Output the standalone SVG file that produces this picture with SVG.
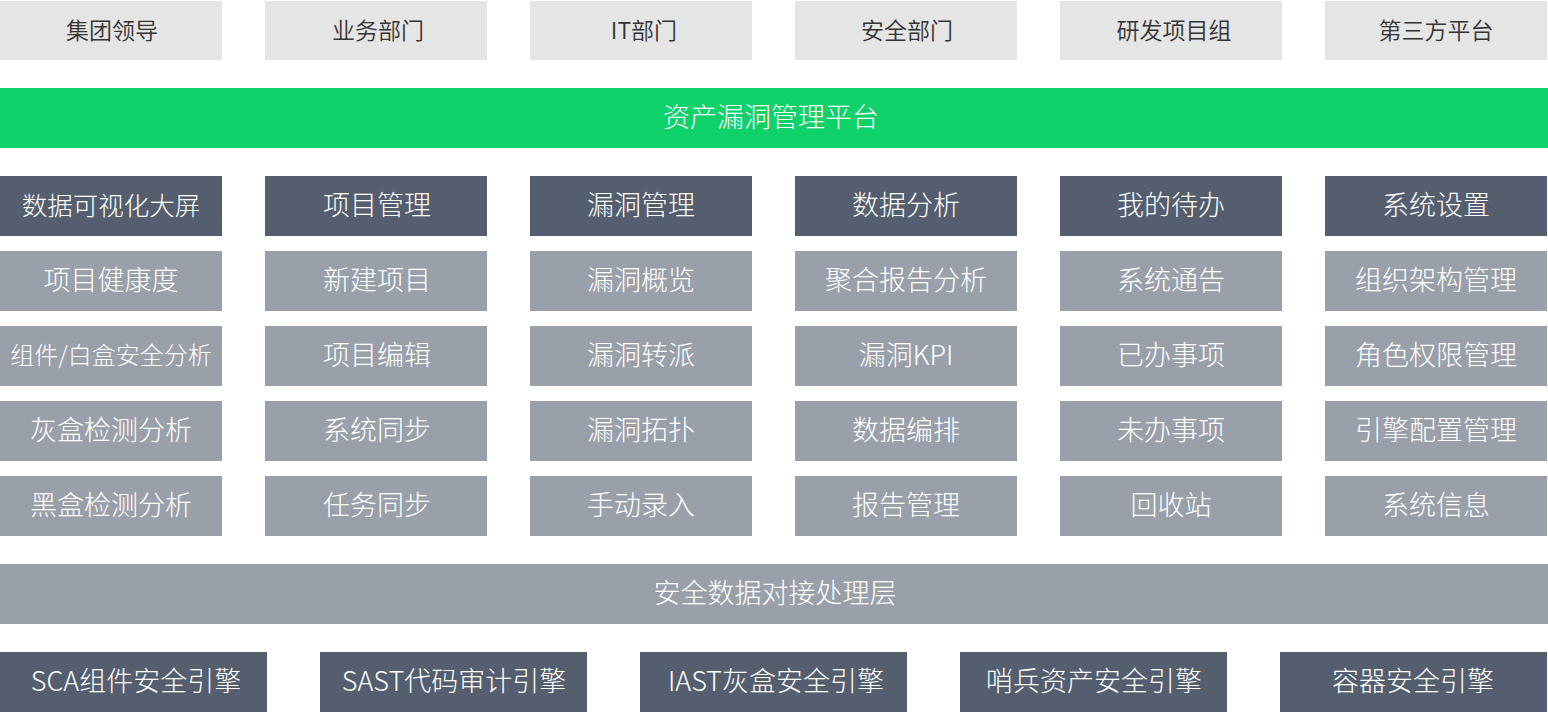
<svg xmlns="http://www.w3.org/2000/svg" width="1548" height="712" viewBox="0 0 1548 712">
<style>
text{font-family:"Noto Sans CJK SC","Noto Sans",sans-serif;text-anchor:middle;font-weight:300}
.u rect{fill:#e5e5e5}
.u text{fill:#333333;font-size:23px;font-weight:350}
.g rect{fill:#0fd16a}
.d rect{fill:#545e6e}
.l rect{fill:#9aa0aa}
.g text,.d text,.l text{fill:#ffffff;font-size:27px}
</style>
<rect width="1548" height="712" fill="#ffffff"/>
<g id="users">
<g id="u1" class="u"><rect x="0" y="1" width="222" height="59"/><text x="112" y="38.5">集团领导</text></g>
<g id="u2" class="u"><rect x="265" y="1" width="222" height="59"/><text x="378" y="38.5">业务部门</text></g>
<g id="u3" class="u"><rect x="530" y="1" width="222" height="59"/><text x="644" y="38.5">IT部门</text></g>
<g id="u4" class="u"><rect x="795" y="1" width="222" height="59"/><text x="907" y="38.5">安全部门</text></g>
<g id="u5" class="u"><rect x="1060" y="1" width="222" height="59"/><text x="1174" y="38.5">研发项目组</text></g>
<g id="u6" class="u"><rect x="1325" y="1" width="222" height="59"/><text x="1436" y="38.5">第三方平台</text></g>
</g>
<g id="platform" class="g"><rect x="0" y="88" width="1548" height="60"/><text x="771" y="127">资产漏洞管理平台</text></g>
<g id="modules">
<g id="m1" class="d"><rect x="0" y="176" width="222" height="60"/><text x="111" y="214.5" style="font-size:25.5px">数据可视化大屏</text></g>
<g id="m2" class="d"><rect x="265" y="176" width="222" height="60"/><text x="377" y="215">项目管理</text></g>
<g id="m3" class="d"><rect x="530" y="176" width="222" height="60"/><text x="641" y="215">漏洞管理</text></g>
<g id="m4" class="d"><rect x="795" y="176" width="222" height="60"/><text x="906" y="215">数据分析</text></g>
<g id="m5" class="d"><rect x="1060" y="176" width="222" height="60"/><text x="1171" y="215">我的待办</text></g>
<g id="m6" class="d"><rect x="1325" y="176" width="222" height="60"/><text x="1436" y="215">系统设置</text></g>
</g>
<g id="features">
<g id="f11" class="l"><rect x="0" y="251" width="222" height="60"/><text x="111" y="290">项目健康度</text></g>
<g id="f12" class="l"><rect x="0" y="326" width="222" height="60"/><text x="111" y="364" style="font-size:24px">组件/白盒安全分析</text></g>
<g id="f13" class="l"><rect x="0" y="401" width="222" height="60"/><text x="111" y="440">灰盒检测分析</text></g>
<g id="f14" class="l"><rect x="0" y="476" width="222" height="60"/><text x="111" y="515">黑盒检测分析</text></g>
<g id="f21" class="l"><rect x="265" y="251" width="222" height="60"/><text x="377" y="290">新建项目</text></g>
<g id="f22" class="l"><rect x="265" y="326" width="222" height="60"/><text x="377" y="365">项目编辑</text></g>
<g id="f23" class="l"><rect x="265" y="401" width="222" height="60"/><text x="377" y="440">系统同步</text></g>
<g id="f24" class="l"><rect x="265" y="476" width="222" height="60"/><text x="377" y="515">任务同步</text></g>
<g id="f31" class="l"><rect x="530" y="251" width="222" height="60"/><text x="641" y="290">漏洞概览</text></g>
<g id="f32" class="l"><rect x="530" y="326" width="222" height="60"/><text x="641" y="365">漏洞转派</text></g>
<g id="f33" class="l"><rect x="530" y="401" width="222" height="60"/><text x="641" y="440">漏洞拓扑</text></g>
<g id="f34" class="l"><rect x="530" y="476" width="222" height="60"/><text x="641" y="515">手动录入</text></g>
<g id="f41" class="l"><rect x="795" y="251" width="222" height="60"/><text x="906" y="290">聚合报告分析</text></g>
<g id="f42" class="l"><rect x="795" y="326" width="222" height="60"/><text x="906" y="365">漏洞KPI</text></g>
<g id="f43" class="l"><rect x="795" y="401" width="222" height="60"/><text x="906" y="440">数据编排</text></g>
<g id="f44" class="l"><rect x="795" y="476" width="222" height="60"/><text x="906" y="515">报告管理</text></g>
<g id="f51" class="l"><rect x="1060" y="251" width="222" height="60"/><text x="1171" y="290">系统通告</text></g>
<g id="f52" class="l"><rect x="1060" y="326" width="222" height="60"/><text x="1171" y="365">已办事项</text></g>
<g id="f53" class="l"><rect x="1060" y="401" width="222" height="60"/><text x="1171" y="440">未办事项</text></g>
<g id="f54" class="l"><rect x="1060" y="476" width="222" height="60"/><text x="1171" y="515">回收站</text></g>
<g id="f61" class="l"><rect x="1325" y="251" width="222" height="60"/><text x="1436" y="290">组织架构管理</text></g>
<g id="f62" class="l"><rect x="1325" y="326" width="222" height="60"/><text x="1436" y="365">角色权限管理</text></g>
<g id="f63" class="l"><rect x="1325" y="401" width="222" height="60"/><text x="1436" y="440">引擎配置管理</text></g>
<g id="f64" class="l"><rect x="1325" y="476" width="222" height="60"/><text x="1436" y="515">系统信息</text></g>
</g>
<g id="datalayer" class="l"><rect x="0" y="564" width="1548" height="60"/><text x="775" y="603">安全数据对接处理层</text></g>
<g id="engines">
<g id="e1" class="d"><rect x="0" y="652" width="267" height="60"/><text x="136" y="691">SCA组件安全引擎</text></g>
<g id="e2" class="d"><rect x="320" y="652" width="267" height="60"/><text x="454" y="691">SAST代码审计引擎</text></g>
<g id="e3" class="d"><rect x="640" y="652" width="267" height="60"/><text x="776" y="691">IAST灰盒安全引擎</text></g>
<g id="e4" class="d"><rect x="960" y="652" width="267" height="60"/><text x="1094" y="691">哨兵资产安全引擎</text></g>
<g id="e5" class="d"><rect x="1280" y="652" width="267" height="60"/><text x="1413" y="691">容器安全引擎</text></g>
</g>
</svg>
